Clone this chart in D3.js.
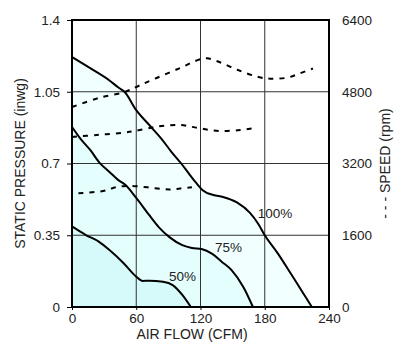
<!DOCTYPE html>
<html>
<head>
<meta charset="utf-8">
<script src="https://cdn.jsdelivr.net/npm/d3@7"></script>
<style>
  body { margin: 0; background: #fff; }
  text { font-family: "Liberation Sans", Arial, sans-serif; fill: #222; }
  .axis path { display: none; }
  .axis line { stroke: #000; }
  .grid { stroke: #333; stroke-width: 1; }
  .pq { fill: none; stroke: #000; stroke-width: 2; }
  .rpm { fill: none; stroke: #000; stroke-width: 2; stroke-dasharray: 5,6; }
</style>
</head>
<body>
<script>
const flowTicks = [0, 60, 120, 180, 240];
const pressureTicks = [0, 0.35, 0.7, 1.05, 1.4];
const speedTicks = [0, 1600, 3200, 4800, 6400];

// static pressure vs air flow
const pq100 = [
  {x: 0, y: 1.22}, {x: 17, y: 1.165}, {x: 35, y: 1.105}, {x: 44, y: 1.068},
  {x: 49, y: 1.05}, {x: 60, y: 0.96}, {x: 73, y: 0.883}, {x: 83, y: 0.824},
  {x: 93, y: 0.756}, {x: 102, y: 0.70}, {x: 110, y: 0.645}, {x: 116, y: 0.605},
  {x: 122, y: 0.57}, {x: 132, y: 0.546}, {x: 141, y: 0.537}, {x: 154, y: 0.51},
  {x: 166, y: 0.46}, {x: 174, y: 0.405}, {x: 180, y: 0.35}, {x: 192, y: 0.263},
  {x: 204, y: 0.166}, {x: 214, y: 0.083}, {x: 224, y: 0}
];
const pq75 = [
  {x: 0, y: 0.878}, {x: 8, y: 0.82}, {x: 17, y: 0.766}, {x: 26, y: 0.702},
  {x: 35, y: 0.659}, {x: 43, y: 0.62}, {x: 50, y: 0.595}, {x: 60, y: 0.532},
  {x: 72, y: 0.449}, {x: 81, y: 0.39}, {x: 91, y: 0.341}, {x: 103, y: 0.302},
  {x: 112, y: 0.288}, {x: 121, y: 0.283}, {x: 131, y: 0.259}, {x: 140, y: 0.22},
  {x: 149, y: 0.18}, {x: 160, y: 0.098}, {x: 169, y: 0}
];
const pq50 = [
  {x: 0, y: 0.393}, {x: 13, y: 0.351}, {x: 25, y: 0.319}, {x: 35, y: 0.278},
  {x: 48, y: 0.215}, {x: 60, y: 0.148}, {x: 66, y: 0.127}, {x: 72, y: 0.128},
  {x: 85, y: 0.123}, {x: 94, y: 0.107}, {x: 103, y: 0.059}, {x: 111, y: 0}
];

// fan speed vs air flow
const rpm100 = [
  {x: 0, y: 4460}, {x: 25, y: 4661}, {x: 49, y: 4795}, {x: 63, y: 4940},
  {x: 79, y: 5107}, {x: 101, y: 5330}, {x: 119, y: 5520}, {x: 126, y: 5546},
  {x: 135, y: 5486}, {x: 155, y: 5285}, {x: 174, y: 5129}, {x: 185, y: 5091},
  {x: 201, y: 5114}, {x: 213, y: 5212}, {x: 225, y: 5319}
];
const rpm75 = [
  {x: 0, y: 3791}, {x: 23, y: 3836}, {x: 48, y: 3887}, {x: 59, y: 3925},
  {x: 79, y: 4021}, {x: 101, y: 4059}, {x: 119, y: 3985}, {x: 138, y: 3925},
  {x: 157, y: 3947}, {x: 169, y: 3985}
];
const rpm50 = [
  {x: 6, y: 2536}, {x: 29, y: 2587}, {x: 41, y: 2670}, {x: 50, y: 2699},
  {x: 63, y: 2687}, {x: 78, y: 2647}, {x: 91, y: 2620}, {x: 101, y: 2643},
  {x: 112, y: 2670}
];

const curveLabels = [
  {text: "100%", x: 173.5, y: 0.434},
  {text: "75%", x: 133.5, y: 0.268},
  {text: "50%", x: 90.5, y: 0.127}
];

const WIDTH = 402;
const HEIGHT = 352;
const MARGIN = {top: 20, right: 73, bottom: 45, left: 72};
const INNER_WIDTH = WIDTH - MARGIN.left - MARGIN.right;
const INNER_HEIGHT = HEIGHT - MARGIN.top - MARGIN.bottom;

var translate = function(x, y) {
  return "translate(" + x + "," + y + ")";
};

var xScale = d3.scaleLinear().domain([0, 240]).range([0, INNER_WIDTH]);
var yScale = d3.scaleLinear().domain([0, 1.4]).range([INNER_HEIGHT, 0]);
var ySpeed = d3.scaleLinear().domain([0, 6400]).range([INNER_HEIGHT, 0]);

var svg = d3.select('body').append('svg')
  .attr('width', WIDTH)
  .attr('height', HEIGHT);

var g = svg.append('g').attr('transform', translate(MARGIN.left, MARGIN.top));

var area = d3.area()
  .x(function(d) { return xScale(d.x); })
  .y0(INNER_HEIGHT)
  .y1(function(d) { return yScale(d.y); })
  .curve(d3.curveMonotoneX);

var line = d3.line()
  .x(function(d) { return xScale(d.x); })
  .y(function(d) { return yScale(d.y); })
  .curve(d3.curveMonotoneX);

var speedLine = d3.line()
  .x(function(d) { return xScale(d.x); })
  .y(function(d) { return ySpeed(d.y); })
  .curve(d3.curveCatmullRom);

// shaded regions under each curve
g.append('path').attr('d', area(pq100)).attr('fill', '#f1ffff');
g.append('path').attr('d', area(pq75)).attr('fill', '#e4fdfd');
g.append('path').attr('d', area(pq50)).attr('fill', '#d6f9f9');

// grid
g.selectAll('.hgrid').data(pressureTicks.slice(1, -1)).enter()
  .append('line').attr('class', 'grid')
  .attr('x1', 0).attr('x2', INNER_WIDTH)
  .attr('y1', function(d) { return yScale(d); })
  .attr('y2', function(d) { return yScale(d); });

g.selectAll('.vgrid').data(flowTicks.slice(1, -1)).enter()
  .append('line').attr('class', 'grid')
  .attr('y1', 0).attr('y2', INNER_HEIGHT)
  .attr('x1', function(d) { return xScale(d); })
  .attr('x2', function(d) { return xScale(d); });

// curves
[pq100, pq75, pq50].forEach(function(c) {
  g.append('path').attr('class', 'pq').attr('d', line(c));
});
[rpm100, rpm75, rpm50].forEach(function(c) {
  g.append('path').attr('class', 'rpm').attr('d', speedLine(c));
});

g.selectAll('.lbl').data(curveLabels).enter()
  .append('text')
  .attr('x', function(d) { return xScale(d.x); })
  .attr('y', function(d) { return yScale(d.y); })
  .attr('font-size', 13.5)
  .text(function(d) { return d.text; });

// frame
g.append('rect')
  .attr('width', INNER_WIDTH).attr('height', INNER_HEIGHT)
  .attr('fill', 'none').attr('stroke', '#000').attr('stroke-width', 2);

// axes
var xAxis = d3.axisBottom(xScale).tickValues(flowTicks).tickSize(3).tickPadding(3)
  .tickFormat(function(d) { return String(d); });
var yAxis = d3.axisLeft(yScale).tickValues(pressureTicks).tickSize(5).tickPadding(7)
  .tickFormat(function(d) { return String(d); });
var rAxis = d3.axisRight(ySpeed).tickValues(speedTicks).tickSize(0).tickPadding(13)
  .tickFormat(function(d) { return String(d); });

g.append('g').attr('class', 'axis').attr('transform', translate(0, INNER_HEIGHT)).call(xAxis);
g.append('g').attr('class', 'axis').call(yAxis);
g.append('g').attr('class', 'axis').attr('transform', translate(INNER_WIDTH, 0)).call(rAxis);

g.selectAll('.axis text')
  .attr('font-size', 13.5)
  .attr('font-family', '"Liberation Sans", Arial, sans-serif')
  .attr('fill', '#222');

// titles
svg.append('text')
  .attr('x', 192).attr('y', 339)
  .attr('text-anchor', 'middle').attr('font-size', 14)
  .text('AIR FLOW (CFM)');

svg.append('text')
  .attr('transform', translate(25, MARGIN.top + INNER_HEIGHT / 2) + ' rotate(-90)')
  .attr('text-anchor', 'middle').attr('font-size', 14)
  .text('STATIC PRESSURE (inwg)');

svg.append('text')
  .attr('transform', translate(390, MARGIN.top + INNER_HEIGHT / 2) + ' rotate(-90)')
  .attr('text-anchor', 'middle').attr('font-size', 14)
  .text('- - - SPEED (rpm)');
</script>
</body>
</html>
